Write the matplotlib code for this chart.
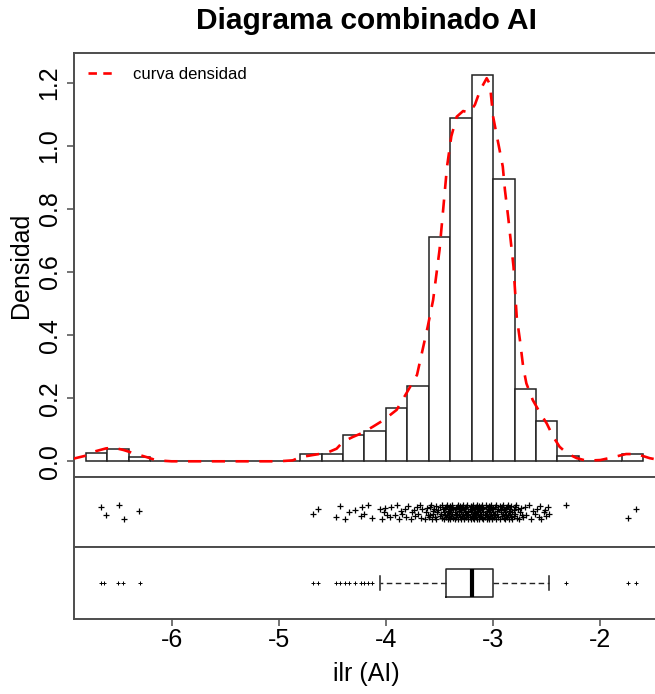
import numpy as np
import matplotlib
matplotlib.use('Agg')
import matplotlib.pyplot as plt
from matplotlib.lines import Line2D

plt.rcParams['font.family'] = ['Liberation Sans', 'DejaVu Sans']

# histogram (density scale), bins of 0.2
bin_edges = [-6.8, -6.6, -6.4, -6.2, -6.0, -5.8, -5.6, -5.4, -5.2, -5.0, -4.8, -4.6, -4.4,
             -4.2, -4.0, -3.8, -3.6, -3.4, -3.2, -3.0, -2.8, -2.6, -2.4, -2.2, -2.0, -1.8, -1.6]
hist_dens = [0.025, 0.038, 0.015, 0, 0, 0, 0, 0, 0, 0, 0.022, 0.024, 0.082,
             0.095, 0.169, 0.240, 0.711, 1.087, 1.224, 0.894, 0.228, 0.127, 0.016, 0, 0, 0.024]

# density curve
dens_x = [-6.92, -6.81, -6.73, -6.61, -6.54, -6.45, -6.33, -6.23, -6.14, -6.00, -5.00, -4.87,
          -4.80, -4.68, -4.55, -4.46, -4.40, -4.31, -4.22, -4.12, -4.02, -3.90, -3.81, -3.71,
          -3.61, -3.56, -3.50, -3.43, -3.39, -3.34, -3.28, -3.22, -3.17, -3.12, -3.06, -3.03,
          -3.00, -2.97, -2.94, -2.91, -2.89, -2.86, -2.84, -2.81, -2.78, -2.75, -2.72, -2.69,
          -2.63, -2.56, -2.50, -2.44, -2.38, -2.31, -2.22, -2.13, -2.00, -1.88, -1.76, -1.66,
          -1.54, -1.45]
dens_y = [0.008, 0.017, 0.030, 0.041, 0.043, 0.036, 0.023, 0.013, 0.003, 0.000, 0.000, 0.003,
          0.013, 0.020, 0.027, 0.040, 0.062, 0.077, 0.090, 0.110, 0.131, 0.163, 0.215, 0.274,
          0.427, 0.511, 0.670, 0.934, 1.030, 1.092, 1.110, 1.105, 1.130, 1.177, 1.214, 1.195,
          1.092, 1.039, 0.987, 0.934, 0.860, 0.775, 0.712, 0.617, 0.458, 0.384, 0.300, 0.247,
          0.194, 0.152, 0.120, 0.078, 0.046, 0.025, 0.010, 0.002, 0.004, 0.013, 0.023, 0.023,
          0.010, 0.004]

# observations for the strip chart
strip_left = [-6.66, -6.61, -6.49, -6.44, -6.30,
              -4.68, -4.635, -4.47, -4.43, -4.38, -4.34, -4.29, -4.235, -4.22, -4.20, -4.17,
              -4.13, -4.06, -4.04, -4.02, -4.01]
strip_core = [-3.99, -3.96, -3.95, -3.92, -3.90, -3.88, -3.86, -3.85, -3.82, -3.81,
              -3.79, -3.77, -3.76, -3.74, -3.73, -3.71, -3.70, -3.68, -3.67, -3.66, -3.64, -3.63,
              -3.62, -3.61,
              -3.60, -3.59, -3.59, -3.58, -3.57, -3.56, -3.56, -3.55, -3.54, -3.53, -3.53, -3.52,
              -3.51, -3.50, -3.50, -3.49, -3.48, -3.48, -3.47, -3.46, -3.46, -3.45, -3.45, -3.44,
              -3.44, -3.43, -3.43, -3.42, -3.42, -3.41, -3.41, -3.41, -3.40, -3.40,
              -3.40, -3.39, -3.39, -3.38, -3.38, -3.38, -3.37, -3.37, -3.36, -3.36, -3.35, -3.35,
              -3.35, -3.34, -3.34, -3.33, -3.33, -3.32, -3.32, -3.32, -3.31, -3.31, -3.30, -3.30,
              -3.30, -3.29, -3.29, -3.28, -3.28, -3.27, -3.27, -3.27, -3.26, -3.26, -3.25, -3.25,
              -3.25, -3.24, -3.24, -3.23, -3.23, -3.23, -3.22, -3.22, -3.21, -3.21, -3.21, -3.20,
              -3.20, -3.20,
              -3.19, -3.19, -3.19, -3.18, -3.18, -3.18, -3.17, -3.17, -3.16, -3.16, -3.16, -3.15,
              -3.15, -3.15, -3.14, -3.14, -3.13, -3.13, -3.13, -3.12, -3.12, -3.12, -3.11, -3.11,
              -3.10, -3.10, -3.10, -3.09, -3.09, -3.09, -3.08, -3.08, -3.07, -3.07, -3.07, -3.06,
              -3.06, -3.06, -3.05, -3.05, -3.04, -3.04, -3.04, -3.03, -3.03, -3.03, -3.02, -3.02,
              -3.01, -3.01, -3.01, -3.00, -3.00,
              -2.99, -2.99, -2.98, -2.98, -2.97, -2.97, -2.96, -2.96, -2.95, -2.95, -2.94, -2.94,
              -2.93, -2.93, -2.92, -2.92, -2.91, -2.91, -2.90, -2.90, -2.89, -2.89, -2.88, -2.88,
              -2.87, -2.87, -2.86, -2.86, -2.85, -2.85, -2.84, -2.84, -2.83, -2.83, -2.82, -2.82,
              -2.81, -2.81, -2.80, -2.80,
              -2.79, -2.78, -2.77, -2.76, -2.75, -2.74, -2.73, -2.72, -2.70, -2.69, -2.67, -2.65,
              -2.63, -2.61]
strip_right = [-2.59, -2.57, -2.56, -2.55, -2.53, -2.52, -2.51, -2.49, -2.48,
               -2.32, -1.74, -1.665]
jitter = [0.07, -0.04, 0.10, -0.09, 0.02, -0.02, 0.05, -0.07, 0.09, -0.10, 0.00, 0.04,
          -0.05, 0.08, -0.03, 0.10, -0.08, 0.05, -0.10, 0.01, 0.06, -0.04, -0.06]

# boxplot summary
box_q1, box_med, box_q3 = -3.44, -3.20, -3.004
box_lo, box_hi = -4.056, -2.48
box_out = [-6.66, -6.63, -6.50, -6.45, -6.29, -4.68, -4.635, -4.47, -4.43, -4.38, -4.34,
           -4.29, -4.235, -4.20, -4.17, -4.13, -2.32, -1.74, -1.665]

W, H = 655, 694
fig = plt.figure(figsize=(W / 100, H / 100), dpi=100)
left = 74 / W
width = 584 / W


def rect(top_px, bot_px):
    return [left, 1 - bot_px / H, width, (bot_px - top_px) / H]


ax_h = fig.add_axes(rect(53.3, 477.3))
ax_s = fig.add_axes(rect(477.3, 547.3))
ax_b = fig.add_axes(rect(547.3, 619.0))

xlim = (-6.910, -1.462)
spine_col = '#4d4d4d'
for ax in (ax_h, ax_s, ax_b):
    ax.set_xlim(*xlim)
    for sp in ax.spines.values():
        sp.set_color(spine_col)
        sp.set_linewidth(1.4)

# histogram + density
edges = np.array(bin_edges)
ax_h.bar(edges[:-1], hist_dens, width=np.diff(edges), align='edge', color='white',
         edgecolor='#222222', linewidth=1.1, zorder=2)
ax_h.plot(dens_x, dens_y, color='red', lw=1.9, linestyle=(0, (5, 4)), zorder=3)
ax_h.set_ylim(-0.0507, 1.293)
ax_h.set_yticks([0.0, 0.2, 0.4, 0.6, 0.8, 1.0, 1.2])
ax_h.set_yticklabels(['0.0', '0.2', '0.4', '0.6', '0.8', '1.0', '1.2'], rotation=90,
                     va='center', fontsize=18)
ax_h.tick_params(axis='y', length=5, width=1.1, color=spine_col, pad=4)
ax_h.set_xticks([])
ax_h.set_ylabel('Densidad', fontsize=18, labelpad=3)
leg_line = Line2D([], [], color='red', lw=1.9, linestyle=(0, (3.2, 2.4)))
ax_h.legend([leg_line], ['curva densidad'], loc='upper left', bbox_to_anchor=(0.024, 0.967),
            frameon=False, fontsize=12, handlelength=1.6, handletextpad=1.1, borderpad=0,
            borderaxespad=0)

# strip chart
sx = np.concatenate([strip_left, strip_core, strip_right])
sy = 0.5 + np.resize(jitter, len(sx))
ax_s.plot(sx, sy, '+', color='black', ms=4, mew=0.9)
ax_s.set_ylim(0, 1)
ax_s.set_xticks([])
ax_s.set_yticks([])

# boxplot
stats = [dict(med=box_med, q1=box_q1, q3=box_q3, whislo=box_lo, whishi=box_hi,
              fliers=box_out)]
ax_b.bxp(stats, positions=[0.5], widths=0.4, orientation='horizontal', manage_ticks=False,
         capwidths=0.2,
         boxprops=dict(color='#222222', lw=1.1),
         medianprops=dict(color='black', lw=3),
         whiskerprops=dict(color='#222222', lw=1, linestyle=(0, (4, 2.5))),
         capprops=dict(color='#222222', lw=1.1),
         flierprops=dict(marker='+', ms=3.5, mec='black', mew=0.7))
ax_b.set_ylim(0, 1)
ax_b.set_yticks([])
ax_b.set_xticks([-6, -5, -4, -3, -2])
ax_b.set_xticklabels(['-6', '-5', '-4', '-3', '-2'], fontsize=18)
ax_b.tick_params(axis='x', length=5, width=1.1, color=spine_col, pad=1.5)
ax_b.set_xlabel('ilr (AI)', fontsize=18, labelpad=7)

fig.text(366 / W, 1 - 21 / H, 'Diagrama combinado AI', fontsize=21.5, fontweight='bold',
         ha='center', va='center')

fig.savefig('out.png', dpi=100)
